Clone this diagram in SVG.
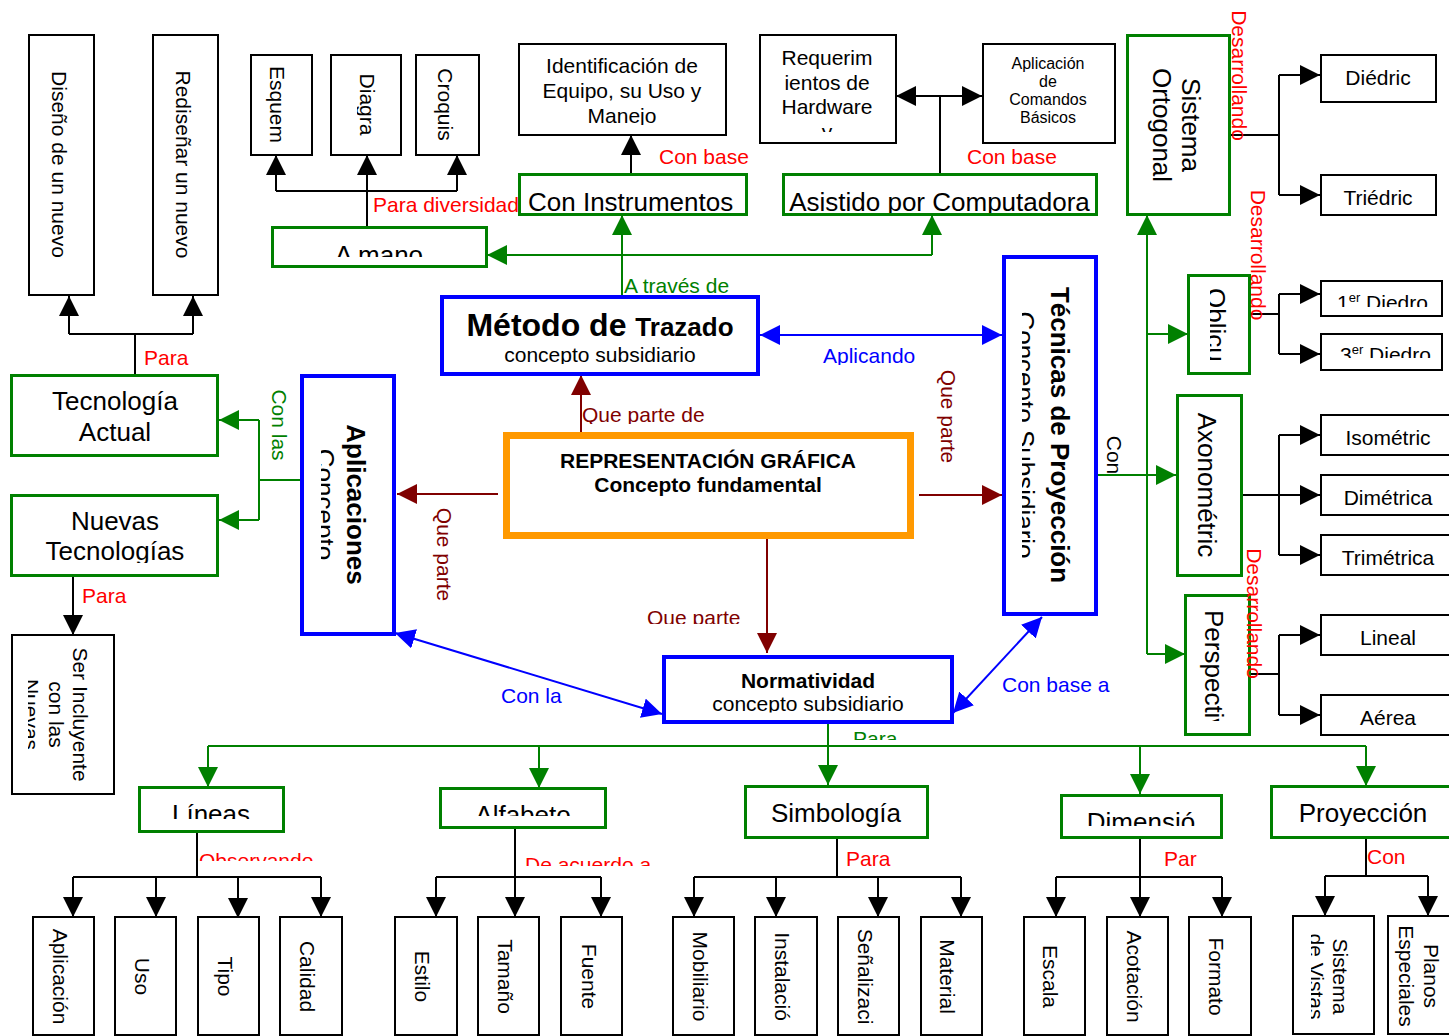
<svg xmlns="http://www.w3.org/2000/svg" width="1449" height="1036" viewBox="0 0 1449 1036">
<style>
text{font-family:"Liberation Sans",Arial,sans-serif;font-size:21px;fill:#000}
.s26{font-size:26px}
.s16{font-size:16px}
.b{font-weight:bold}
.red{fill:#FF0000}
.dred{fill:#800000}
.blue{fill:#0000FF}
.grn{fill:#008000}
.m{text-anchor:middle}
.bx{fill:#fff;stroke:#000;stroke-width:2}
.gb{fill:#fff;stroke:#008000;stroke-width:3}
.bb{fill:#fff;stroke:#0000FF;stroke-width:4}
.ob{fill:#fff;stroke:#FF9900;stroke-width:7}
.ck{stroke:#000;stroke-width:2;fill:none}
.cg{stroke:#008000;stroke-width:2;fill:none}
.cb{stroke:#0000FF;stroke-width:2;fill:none}
.cr{stroke:#800000;stroke-width:2;fill:none}
.ck.a{marker-end:url(#ak)}
.cg.a{marker-end:url(#ag)}
.cr.a{marker-end:url(#ar)}
.cb.a2{marker-start:url(#ab);marker-end:url(#ab)}
.ck.a2{marker-start:url(#ak);marker-end:url(#ak)}
</style>
<defs>
<marker id="ak" viewBox="0 0 20 20" refX="20" refY="10" markerWidth="20" markerHeight="20" markerUnits="userSpaceOnUse" orient="auto-start-reverse"><path d="M0,0L20,10L0,20z" fill="#000"/></marker>
<marker id="ag" viewBox="0 0 20 20" refX="20" refY="10" markerWidth="20" markerHeight="20" markerUnits="userSpaceOnUse" orient="auto-start-reverse"><path d="M0,0L20,10L0,20z" fill="#008000"/></marker>
<marker id="ab" viewBox="0 0 20 20" refX="20" refY="10" markerWidth="20" markerHeight="20" markerUnits="userSpaceOnUse" orient="auto-start-reverse"><path d="M0,0L20,10L0,20z" fill="#0000FF"/></marker>
<marker id="ar" viewBox="0 0 20 20" refX="20" refY="10" markerWidth="20" markerHeight="20" markerUnits="userSpaceOnUse" orient="auto-start-reverse"><path d="M0,0L20,10L0,20z" fill="#800000"/></marker>
<clipPath id="c-diagra"><rect x="357" y="50" width="50" height="110"/></clipPath>
<clipPath id="c-ident"><rect x="518" y="43" width="208" height="82"/></clipPath>
<clipPath id="c-req"><rect x="759" y="34" width="137" height="98"/></clipPath>
<clipPath id="c-amano"><rect x="271" y="226" width="216" height="31"/></clipPath>
<clipPath id="c-asist"><rect x="782" y="174" width="315" height="39"/></clipPath>
<clipPath id="c-obl"><rect x="1210" y="276" width="40" height="85"/></clipPath>
<clipPath id="c-1er"><rect x="1321" y="281" width="121" height="26"/></clipPath>
<clipPath id="c-3er"><rect x="1321" y="334" width="121" height="24"/></clipPath>
<clipPath id="c-persp"><rect x="1186" y="596" width="64" height="125"/></clipPath>
<clipPath id="c-tecsub"><rect x="1022" y="257" width="74" height="356"/></clipPath>
<clipPath id="c-metsub"><rect x="442" y="297" width="316" height="67"/></clipPath>
<clipPath id="c-aplsub"><rect x="321" y="376" width="73" height="258"/></clipPath>
<clipPath id="c-normsub"><rect x="664" y="657" width="288" height="55.5"/></clipPath>
<clipPath id="c-nuevas"><rect x="11" y="495" width="207" height="68"/></clipPath>
<clipPath id="c-ser"><rect x="28" y="636" width="86" height="158"/></clipPath>
<clipPath id="c-lineas"><rect x="139" y="787" width="145" height="32"/></clipPath>
<clipPath id="c-alf"><rect x="440" y="788" width="166" height="28"/></clipPath>
<clipPath id="c-simb"><rect x="745" y="786" width="183" height="41"/></clipPath>
<clipPath id="c-dim"><rect x="1061" y="795" width="161" height="31"/></clipPath>
<clipPath id="c-proy"><rect x="1271" y="786" width="184" height="40"/></clipPath>
<clipPath id="c-vistas"><rect x="1311" y="917" width="63" height="118"/></clipPath>
<clipPath id="c-obs"><rect x="190" y="840" width="140" height="21"/></clipPath>
<clipPath id="c-deac"><rect x="515" y="840" width="160" height="26"/></clipPath>
<clipPath id="c-qpd"><rect x="575" y="395" width="150" height="29"/></clipPath>
<clipPath id="c-qpb"><rect x="640" y="595" width="120" height="29"/></clipPath>
<clipPath id="c-apl"><rect x="815" y="340" width="120" height="25"/></clipPath>
<clipPath id="c-paragr"><rect x="845" y="720" width="60" height="20"/></clipPath>
</defs>
<rect x="0" y="0" width="1449" height="1036" fill="#fff"/>

<g id="connectors">
<path class="ck" d="M69,334H193M135,374V334"/>
<path class="ck a" d="M69,334V296"/>
<path class="ck a" d="M193,334V296"/>
<path class="ck a" d="M367,226V155"/>
<path class="ck" d="M276,191H457"/>
<path class="ck a" d="M276,191V155"/>
<path class="ck a" d="M457,191V155"/>
<path class="ck a" d="M631,174V135"/>
<path class="ck" d="M940,174V96"/>
<path class="ck a2" d="M896,96H982"/>
<path class="ck" d="M1230,135H1279M1279,75V195"/>
<path class="ck a" d="M1279,75H1320"/>
<path class="ck a" d="M1279,195H1320"/>
<path class="ck" d="M1251,314H1279M1279,294V354"/>
<path class="ck a" d="M1279,294H1320"/>
<path class="ck a" d="M1279,354H1320"/>
<path class="ck a" d="M1238,495H1320"/>
<path class="ck" d="M1279,435V555"/>
<path class="ck a" d="M1279,435H1320"/>
<path class="ck a" d="M1279,555H1320"/>
<path class="ck" d="M1251,674H1279M1279,635V715"/>
<path class="ck a" d="M1279,635H1320"/>
<path class="ck a" d="M1279,715H1320"/>
<path class="ck a" d="M73,576V635"/>
<path class="ck" d="M197,832V877M73,877H321"/>
<path class="ck a" d="M73,877V917"/>
<path class="ck a" d="M156,877V917"/>
<path class="ck a" d="M238,877V918"/>
<path class="ck a" d="M321,877V917"/>
<path class="ck a" d="M515,828V917"/>
<path class="ck" d="M436,877H601"/>
<path class="ck a" d="M436,877V917"/>
<path class="ck a" d="M601,877V917"/>
<path class="ck" d="M837,839V877M694,877H961"/>
<path class="ck a" d="M694,877V917"/>
<path class="ck a" d="M776,877V917"/>
<path class="ck a" d="M878,877V917"/>
<path class="ck a" d="M961,877V917"/>
<path class="ck a" d="M1140,838V917"/>
<path class="ck" d="M1056,877H1222"/>
<path class="ck a" d="M1056,877V917"/>
<path class="ck a" d="M1222,877V917"/>
<path class="ck" d="M1366,838V876M1325,876H1428"/>
<path class="ck a" d="M1325,876V916"/>
<path class="ck a" d="M1428,876V916"/>
<path class="cr a" d="M581,435V375"/>
<path class="cr a" d="M498,494H397"/>
<path class="cr a" d="M919,495H1002"/>
<path class="cr a" d="M767,534V653"/>
<path class="cb a2" d="M760,335H1002"/>
<path class="cb a2" d="M395,633L662,714"/>
<path class="cb a2" d="M953,713L1042,617"/>
<path class="cg a" d="M622,295V215"/>
<path class="cg a" d="M932,255H487"/>
<path class="cg a" d="M932,255V215"/>
<path class="cg" d="M300,480H259M259,420V520"/>
<path class="cg a" d="M259,420H219"/>
<path class="cg a" d="M259,520H219"/>
<path class="cg a" d="M1097,475H1176"/>
<path class="cg a" d="M1147,654V215"/>
<path class="cg a" d="M1147,334H1188"/>
<path class="cg a" d="M1147,654H1185"/>
<path class="cg a" d="M828,723V785"/>
<path class="cg" d="M208,746H1366"/>
<path class="cg a" d="M208,746V787"/>
<path class="cg a" d="M539,746V788"/>
<path class="cg a" d="M1140,746V794"/>
<path class="cg a" d="M1366,746V786"/>
</g>

<g id="n-diseno"><rect class="bx" x="29" y="35" width="65" height="260"/><text class="m" transform="translate(52,164.5) rotate(90)">Diseño de un nuevo</text></g>
<g id="n-redisenar"><rect class="bx" x="153" y="35" width="65" height="260"/><text class="m" transform="translate(176,164.5) rotate(90)">Rediseñar un nuevo</text></g>
<g id="n-esquem"><rect class="bx" x="251" y="55" width="61" height="100"/><text class="m" transform="translate(270,104.5) rotate(90)">Esquem</text></g>
<g id="n-diagra"><rect class="bx" x="331" y="55" width="70" height="100"/><g clip-path="url(#c-diagra)"><text class="m" transform="translate(360,104.5) rotate(90)">Diagra</text></g></g>
<g id="n-croquis"><rect class="bx" x="416" y="55" width="63" height="100"/><text class="m" transform="translate(438,104.5) rotate(90)">Croquis</text></g>
<g id="n-amano"><rect class="gb" x="272.5" y="227.5" width="214" height="39"/><g clip-path="url(#c-amano)"><text class="s26 m" x="379" y="263.5">A mano</text></g></g>
<g id="n-ident"><rect class="bx" x="519" y="44" width="207" height="91"/><g clip-path="url(#c-ident)"><text class="m" x="622" y="73">Identificación de</text><text class="m" x="622" y="98">Equipo, su Uso y</text><text class="m" x="622" y="123">Manejo</text></g></g>
<g id="n-coninst"><rect class="gb" x="519.5" y="174.5" width="227" height="40"/><text class="s26" x="528" y="211">Con Instrumentos</text></g>
<g id="n-req"><rect class="bx" x="760" y="35" width="136" height="108"/><g clip-path="url(#c-req)"><text class="m" x="827" y="65">Requerim</text><text class="m" x="827" y="89.5">ientos de</text><text class="m" x="827" y="114">Hardware</text><text class="m" x="827" y="138.5">y</text></g></g>
<g id="n-aplcom"><rect class="bx" x="983" y="44" width="132" height="99"/><text class="s16 m" x="1048" y="69">Aplicación</text><text class="s16 m" x="1048" y="87">de</text><text class="s16 m" x="1048" y="105">Comandos</text><text class="s16 m" x="1048" y="123">Básicos</text></g>
<g id="n-asist"><rect class="gb" x="783.5" y="174.5" width="313" height="40"/><g clip-path="url(#c-asist)"><text class="s26 m" x="939.5" y="211">Asistido por Computadora</text></g></g>
<g id="n-sistema"><rect class="gb" x="1127.5" y="35.5" width="102" height="179"/><text class="s26 m" transform="translate(1182,125) rotate(90)">Sistema</text><text class="s26 m" transform="translate(1153,125) rotate(90)">Ortogonal</text></g>
<g id="n-diedric"><rect class="bx" x="1321" y="55" width="115" height="47"/><text class="m" x="1378" y="85">Diédric</text></g>
<g id="n-triedric"><rect class="bx" x="1321" y="175" width="115" height="40"/><text class="m" x="1378" y="205">Triédric</text></g>
<g id="n-oblicua"><rect class="gb" x="1188.5" y="275.5" width="61" height="98"/><g clip-path="url(#c-obl)"><text class="s26" transform="translate(1207,288) rotate(90)">Oblicua</text></g></g>
<g id="n-1er"><rect class="bx" x="1321" y="281" width="121" height="35"/><g clip-path="url(#c-1er)"><text x="1337" y="310">1<tspan font-size="13" dy="-8">er</tspan><tspan dy="8"> Diedro</tspan></text></g></g>
<g id="n-3er"><rect class="bx" x="1321" y="334" width="121" height="36"/><g clip-path="url(#c-3er)"><text x="1340" y="362">3<tspan font-size="13" dy="-8">er</tspan><tspan dy="8"> Diedro</tspan></text></g></g>
<g id="n-axono"><rect class="gb" x="1177.5" y="395.5" width="64" height="180"/><text class="s26 m" transform="translate(1198,485) rotate(90)">Axonométric</text></g>
<g id="n-iso"><rect class="bx" x="1321" y="415" width="135" height="40"/><text class="m" x="1388" y="445">Isométric</text></g>
<g id="n-dime"><rect class="bx" x="1321" y="475" width="135" height="40"/><text class="m" x="1388" y="505">Dimétrica</text></g>
<g id="n-trime"><rect class="bx" x="1321" y="535" width="135" height="40"/><text class="m" x="1388" y="565">Trimétrica</text></g>
<g id="n-persp"><rect class="gb" x="1185.5" y="595.5" width="64" height="139"/><g clip-path="url(#c-persp)"><text class="s26" transform="translate(1205,610) rotate(90)">Perspectiva</text></g></g>
<g id="n-lineal"><rect class="bx" x="1321" y="615" width="135" height="40"/><text class="m" x="1388" y="645">Lineal</text></g>
<g id="n-aerea"><rect class="bx" x="1321" y="695" width="135" height="40"/><text class="m" x="1388" y="725">Aérea</text></g>
<g id="n-tecnicas"><rect class="bb" x="1004" y="257" width="92" height="357"/><text class="s26 b m" transform="translate(1051,435) rotate(90)">Técnicas de Proyección</text><g clip-path="url(#c-tecsub)"><text class="s26 m" transform="translate(1016,435) rotate(90)">Concepto Subsidiario</text></g></g>
<g id="n-metodo"><rect class="bb" x="442" y="297" width="316" height="77"/><text class="b m" x="600" y="336"><tspan font-size="32">Método de </tspan><tspan font-size="26">Trazado</tspan></text><g clip-path="url(#c-metsub)"><text class="m" x="600" y="362">concepto subsidiario</text></g></g>
<g id="n-rep"><rect class="ob" x="506.5" y="435.5" width="404" height="100"/><text class="b m" x="708" y="468">REPRESENTACIÓN GRÁFICA</text><text class="b m" x="708" y="492">Concepto fundamental</text></g>
<g id="n-aplicaciones"><rect class="bb" x="302" y="376" width="92" height="258"/><text class="s26 b m" transform="translate(347,504.5) rotate(90)">Aplicaciones</text><g clip-path="url(#c-aplsub)"><text class="s26 m" transform="translate(316,504.5) rotate(90)">Concepto</text></g></g>
<g id="n-normatividad"><rect class="bb" x="664" y="657" width="288" height="65"/><text class="b m" x="808" y="688">Normatividad</text><g clip-path="url(#c-normsub)"><text class="m" x="808" y="711">concepto subsidiario</text></g></g>
<g id="n-tecactual"><rect class="gb" x="11.5" y="375.5" width="206" height="80"/><text class="s26 m" x="115" y="410">Tecnología</text><text class="s26 m" x="115" y="441">Actual</text></g>
<g id="n-nuevas"><rect class="gb" x="11.5" y="495.5" width="206" height="80"/><g clip-path="url(#c-nuevas)"><text class="s26 m" x="115" y="530">Nuevas</text><text class="s26 m" x="115" y="560">Tecnologías</text></g></g>
<g id="n-ser"><rect class="bx" x="12" y="635" width="102" height="159"/><g clip-path="url(#c-ser)"><text class="m" transform="translate(73,714.5) rotate(90)">Ser Incluyente</text><text class="m" transform="translate(48.5,714.5) rotate(90)">con las</text><text class="m" transform="translate(24,714.5) rotate(90)">Nuevas</text></g></g>
<g id="n-lineas"><rect class="gb" x="139.5" y="787.5" width="144" height="44"/><g clip-path="url(#c-lineas)"><text class="s26 m" x="211" y="823">Líneas</text></g></g>
<g id="n-alfabeto"><rect class="gb" x="440.5" y="788.5" width="165" height="39"/><g clip-path="url(#c-alf)"><text class="s26 m" x="523" y="824">Alfabeto</text></g></g>
<g id="n-simbologia"><rect class="gb" x="745.5" y="786.5" width="182" height="51"/><g clip-path="url(#c-simb)"><text class="s26 m" x="836" y="822">Simbología</text></g></g>
<g id="n-dimension"><rect class="gb" x="1061.5" y="795.5" width="160" height="42"/><g clip-path="url(#c-dim)"><text class="s26 m" x="1141" y="831">Dimensió</text></g></g>
<g id="n-proyeccion"><rect class="gb" x="1271.5" y="786.5" width="182" height="51"/><g clip-path="url(#c-proy)"><text class="s26 m" x="1363" y="822">Proyección</text></g></g>
<g id="n-aplicacion"><rect class="bx" x="33" y="917" width="61" height="118"/><text class="m" transform="translate(53,976.5) rotate(90)">Aplicación</text></g>
<g id="n-uso"><rect class="bx" x="115" y="917" width="61" height="118"/><text class="m" transform="translate(135,976.5) rotate(90)">Uso</text></g>
<g id="n-tipo"><rect class="bx" x="198" y="917" width="61" height="118"/><text class="m" transform="translate(218,976.5) rotate(90)">Tipo</text></g>
<g id="n-calidad"><rect class="bx" x="280" y="917" width="62" height="118"/><text class="m" transform="translate(300,976.5) rotate(90)">Calidad</text></g>
<g id="n-estilo"><rect class="bx" x="395" y="917" width="62" height="118"/><text class="m" transform="translate(415,976.5) rotate(90)">Estilo</text></g>
<g id="n-tamano"><rect class="bx" x="478" y="917" width="61" height="118"/><text class="m" transform="translate(498,976.5) rotate(90)">Tamaño</text></g>
<g id="n-fuente"><rect class="bx" x="561" y="917" width="61" height="118"/><text class="m" transform="translate(582,976.5) rotate(90)">Fuente</text></g>
<g id="n-mobiliario"><rect class="bx" x="673" y="917" width="61" height="118"/><text class="m" transform="translate(693,976.5) rotate(90)">Mobiliario</text></g>
<g id="n-instalacion"><rect class="bx" x="755" y="917" width="62" height="118"/><text class="m" transform="translate(775,976.5) rotate(90)">Instalació</text></g>
<g id="n-senalizacion"><rect class="bx" x="838" y="917" width="61" height="118"/><text class="m" transform="translate(858,976.5) rotate(90)">Señalizaci</text></g>
<g id="n-material"><rect class="bx" x="921" y="917" width="61" height="118"/><text class="m" transform="translate(940,976.5) rotate(90)">Material</text></g>
<g id="n-escala"><rect class="bx" x="1024" y="917" width="61" height="118"/><text class="m" transform="translate(1043,976.5) rotate(90)">Escala</text></g>
<g id="n-acotacion"><rect class="bx" x="1107" y="917" width="61" height="118"/><text class="m" transform="translate(1127,976.5) rotate(90)">Acotación</text></g>
<g id="n-formato"><rect class="bx" x="1189" y="917" width="62" height="118"/><text class="m" transform="translate(1209,976.5) rotate(90)">Formato</text></g>
<g id="n-vistas"><rect class="bx" x="1293" y="916" width="81" height="118"/><text class="m" transform="translate(1333,976.5) rotate(90)">Sistema</text><g clip-path="url(#c-vistas)"><text class="m" transform="translate(1309,976.5) rotate(90)">de Vistas</text></g></g>
<g id="n-planos"><rect class="bx" x="1388" y="916" width="70" height="118"/><text class="m" transform="translate(1424,976) rotate(90)">Planos</text><text class="m" transform="translate(1399,976) rotate(90)">Especiales</text></g>

<g id="labels">
<text class="red" x="373" y="212">Para diversidad</text>
<text class="red" x="659" y="164">Con base</text>
<text class="red" x="967" y="164">Con base</text>
<text class="red" x="144" y="365">Para</text>
<text class="red" x="82" y="603">Para</text>
<g clip-path="url(#c-obs)"><text class="red" x="199" y="868">Observando</text></g>
<g clip-path="url(#c-deac)"><text class="red" x="525" y="872">De acuerdo a</text></g>
<text class="red" x="846" y="866">Para</text>
<text class="red" x="1164" y="866">Par</text>
<text class="red" x="1367" y="864">Con</text>
<text class="red m" transform="translate(1232,75.5) rotate(90)">Desarrollando</text>
<text class="red m" transform="translate(1251,255) rotate(90)">Desarrollando</text>
<text class="red m" transform="translate(1247,613.5) rotate(90)">Desarrollando</text>
<g clip-path="url(#c-qpd)"><text class="dred" x="582" y="422">Que parte de</text></g>
<text class="dred m" transform="translate(437,554.5) rotate(90)">Que parte</text>
<text class="dred m" transform="translate(941,416.5) rotate(90)">Que parte</text>
<g clip-path="url(#c-qpb)"><text class="dred" x="647" y="625">Que parte</text></g>
<g clip-path="url(#c-apl)"><text class="blue" x="823" y="363">Aplicando</text></g>
<text class="blue" x="501" y="703">Con la</text>
<text class="blue" x="1002" y="692">Con base a</text>
<text class="grn" x="624" y="293">A través de</text>
<text class="grn m" transform="translate(272,425) rotate(90)">Con las</text>
<g clip-path="url(#c-paragr)"><text class="grn" x="853" y="746">Para</text></g>
<text class="m" transform="translate(1107,455) rotate(90)">Con</text>
</g>
</svg>
